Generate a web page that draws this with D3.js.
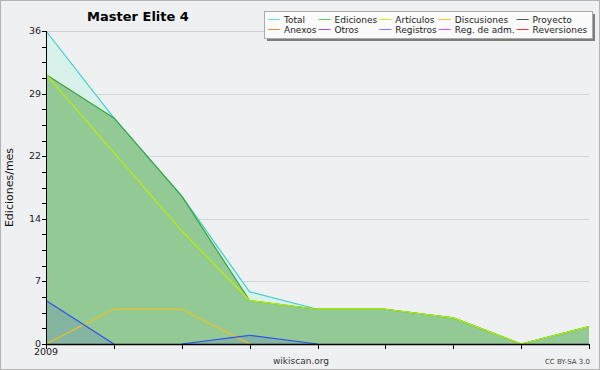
<!DOCTYPE html>
<html>
<head>
<meta charset="utf-8">
<script src="https://cdn.jsdelivr.net/npm/d3@7"></script>
<style>
  body { margin: 0; background: #fff; }
  text { font-family: "DejaVu Sans", sans-serif; }
</style>
</head>
<body>
<svg id="chart" width="600" height="370"></svg>
<script>
// monthly values, 9 months starting 2009
const months = ["2009", "", "", "", "", "", "", "", ""];
const total = [36, 26, 17, 6, 4, 4, 3, 0, 2];
const ediciones = [31, 26, 17, 5, 4, 4, 3, 0, 2];
const articulos = [31, 22, 13, 5, 4, 4, 3, 0, 2];
const discusiones = [0, 4, 4, 0, 0, 0, 0, 0, 0];
const registros = [5, 0, 0, 1, 0, 0, 0, 0, 0];

const legendNames = [
  ["Total", "Anexos"], ["Ediciones", "Otros"], ["Artículos", "Registros"],
  ["Discusiones", "Reg. de adm."], ["Proyecto", "Reversiones"]
];
const legendColors = [
  ["#66dddd", "#f08850"], ["#70c470", "#9050e0"], ["#c8f020", "#7a7aff"],
  ["#f5c820", "#e050e8"], ["#555555", "#f03838"]
];

const svg = d3.select("#chart");
const W = 600, H = 370;

// background + frame
svg.append("rect").attr("x", 0.5).attr("y", 0.5).attr("width", W - 1).attr("height", H - 1)
  .attr("fill", "#eff0f2").attr("stroke", "#b4b4b4");

const margin = {left: 46, right: 11, top: 31, bottom: 26};
const x = d3.scaleLinear().domain([0, total.length - 1]).range([margin.left, W - margin.right]);
const y = d3.scaleLinear().domain([0, 36]).range([H - margin.bottom, margin.top]);

// grid
const major = d3.range(0, 36.01, 7.2);
const minor = d3.range(0, 36.01, 1.8);
svg.append("g").selectAll("line").data(major.slice(1)).join("line")
  .attr("x1", margin.left).attr("x2", W - margin.right)
  .attr("y1", d => Math.round(y(d)) + 0.5).attr("y2", d => Math.round(y(d)) + 0.5)
  .attr("stroke", "#d2d2d4");

// areas
const area = d3.area().x((d, i) => x(i)).y0(y(0)).y1(d => y(d));
svg.append("path").attr("d", area(total)).attr("fill", "#d8f1ea");
svg.append("path").attr("d", area(ediciones)).attr("fill", "#93c994");
svg.append("path").attr("d", area(registros)).attr("fill", "#4060e0").attr("fill-opacity", 0.18);

// lines: skip segments where both ends are zero
function drawSeries(vals, color, width) {
  const segs = [];
  for (let i = 0; i < vals.length - 1; i++) {
    if (vals[i] !== 0 || vals[i + 1] !== 0) segs.push([[i, vals[i]], [i + 1, vals[i + 1]]]);
  }
  const line = d3.line().x(d => x(d[0])).y(d => y(d[1]));
  svg.append("g").selectAll("path").data(segs).join("path")
    .attr("d", line).attr("fill", "none").attr("stroke", color).attr("stroke-width", width);
}
drawSeries(total, "#3fcfcf", 1.2);
drawSeries(ediciones, "#3aa53a", 1.2);
drawSeries(articulos, "#b8f000", 1.2);
drawSeries(discusiones, "#f0c020", 1.2);
drawSeries(registros, "#3050f0", 1.2);

// axes
const yAxis = svg.append("g").attr("transform", `translate(${margin.left},0)`);
yAxis.append("line").attr("x1", 0.5).attr("x2", 0.5).attr("y1", y(36)).attr("y2", y(0)).attr("stroke", "#000");
yAxis.selectAll("line.t").data(minor).join("line").attr("class", "t")
  .attr("x1", -4).attr("x2", 0).attr("y1", d => Math.round(y(d)) + 0.5).attr("y2", d => Math.round(y(d)) + 0.5)
  .attr("stroke", "#000");
yAxis.selectAll("text").data(major).join("text")
  .attr("x", -5).attr("y", d => y(d) + 3).attr("text-anchor", "end")
  .attr("font-size", 9.5).attr("fill", "#222").text(d => Math.round(d));

const xAxis = svg.append("g").attr("transform", `translate(0,${y(0)})`);
xAxis.append("line").attr("x1", margin.left).attr("x2", W - margin.right).attr("y1", 0.5).attr("y2", 0.5)
  .attr("stroke", "#000").attr("stroke-width", 1.5);
xAxis.selectAll("line.t").data(months).join("line").attr("class", "t")
  .attr("x1", (d, i) => Math.round(x(i)) + 0.5).attr("x2", (d, i) => Math.round(x(i)) + 0.5)
  .attr("y1", 0).attr("y2", 5).attr("stroke", "#000");
xAxis.selectAll("text").data(months).join("text")
  .attr("x", (d, i) => x(i)).attr("y", 11).attr("text-anchor", "middle")
  .attr("font-size", 9.5).attr("fill", "#222").text(d => d);

// titles
svg.append("text").attr("x", 138).attr("y", 21).attr("text-anchor", "middle")
  .attr("font-size", 13).attr("font-weight", "bold").text("Master Elite 4");
svg.append("text").attr("transform", `translate(13,${(y(0) + y(36)) / 2}) rotate(-90)`)
  .attr("text-anchor", "middle").attr("font-size", 11).attr("fill", "#111").text("Ediciones/mes");
svg.append("text").attr("x", 301).attr("y", 364).attr("text-anchor", "middle")
  .attr("font-size", 9).attr("fill", "#333").text("wikiscan.org");
svg.append("text").attr("x", 590).attr("y", 364).attr("text-anchor", "end")
  .attr("font-size", 7).attr("fill", "#444").text("CC BY-SA 3.0");

// legend
const lg = svg.append("g");
const lx = 264, ly = 11, lw = 328, lh = 27;
lg.append("rect").attr("x", lx + 3).attr("y", ly + 3).attr("width", lw).attr("height", lh).attr("fill", "#7d7d7d");
lg.append("rect").attr("x", lx + 0.5).attr("y", ly + 0.5).attr("width", lw).attr("height", lh)
  .attr("fill", "#fbfbfb").attr("stroke", "#aaaaaa");
let cx = lx + 4;
legendNames.forEach((col, c) => {
  let maxW = 0;
  col.forEach((name, r) => {
    const yy = ly + 8 + r * 10;
    lg.append("line").attr("x1", cx).attr("x2", cx + 12).attr("y1", yy + 0.5).attr("y2", yy + 0.5)
      .attr("stroke", legendColors[c][r]);
    const t = lg.append("text").attr("x", cx + 16).attr("y", yy + 3.5).attr("font-size", 9)
      .attr("fill", "#222").text(name);
    maxW = Math.max(maxW, t.node().getComputedTextLength());
  });
  cx += 16 + maxW + 2;
});
</script>
</body>
</html>
